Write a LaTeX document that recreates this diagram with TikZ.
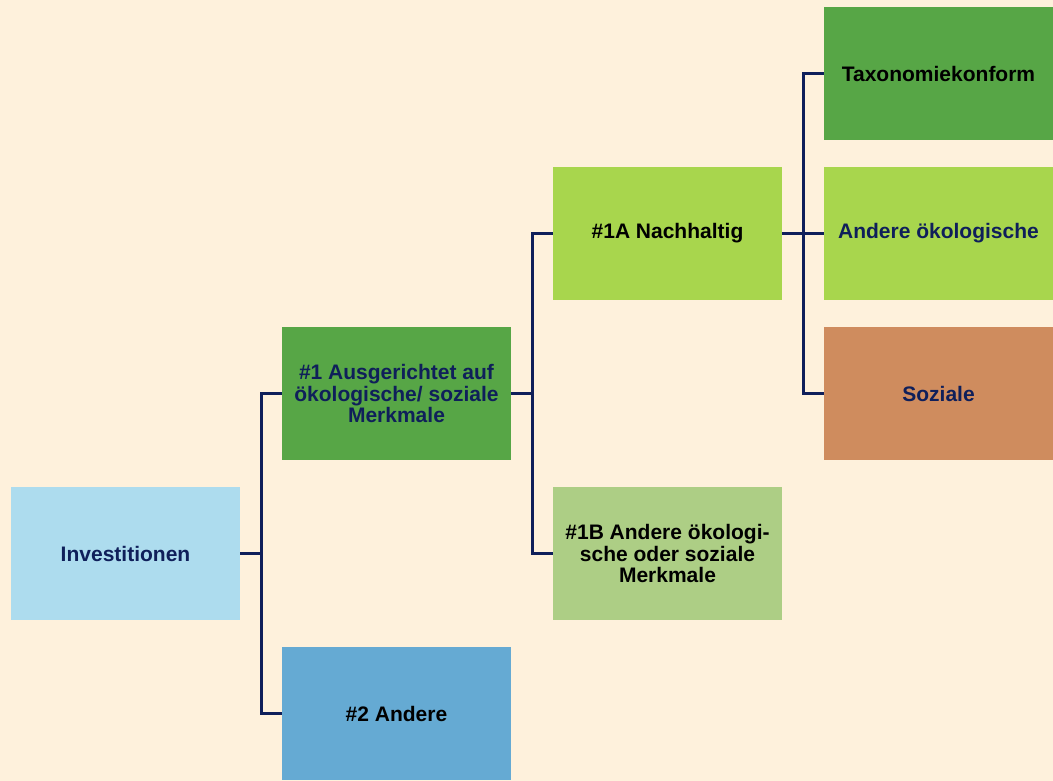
\documentclass[tikz,border=0pt]{standalone}
\usepackage{fontspec}
\setmainfont{Liberation Sans}
\definecolor{bgc}{HTML}{FEF1DC}
\definecolor{navy}{HTML}{0F1F5A}
\definecolor{lblue}{HTML}{ADDCEE}
\definecolor{dgreen}{HTML}{57A646}
\definecolor{mblue}{HTML}{65AAD3}
\definecolor{lime}{HTML}{A8D64D}
\definecolor{sage}{HTML}{ADCE85}
\definecolor{terra}{HTML}{CF8C5E}
\begin{document}
\begin{tikzpicture}[x=1pt,y=-1pt,
  box/.style={rectangle,minimum width=229pt,minimum height=133pt,inner sep=0pt,
    align=center,font=\fontsize{21}{21.5}\selectfont\bfseries},
  conn/.style={draw=navy,line width=3pt}]
\fill[bgc] (0,0) rectangle (1053,781);
\useasboundingbox (0,0) rectangle (1053,781);
\node[box,fill=lblue,text=navy] (inv) at (125.5,553.5) {Investitionen};
\node[box,fill=dgreen,text=navy] (n1) at (396.5,393.5) {\#1 Ausgerichtet auf\\ökologische/ soziale\\Merkmale};
\node[box,fill=mblue,text=black] (n2) at (396.5,713.5) {\#2 Andere};
\node[box,fill=lime,text=black] (n1a) at (667.5,233.5) {\#1A Nachhaltig};
\node[box,fill=sage,text=black] (n1b) at (667.5,553.5) {\#1B Andere ökologi-\\sche oder soziale\\Merkmale};
\node[box,fill=dgreen,text=black] (tax) at (938.5,73.5) {Taxonomiekonform};
\node[box,fill=lime,text=navy] (aoe) at (938.5,233.5) {Andere ökologische};
\node[box,fill=terra,text=navy] (soz) at (938.5,393.5) {Soziale};
\draw[conn] (inv.east) -- ++(22,0);
\draw[conn] (n1.west) -- ++(-20,0) |- (n2.west);
\draw[conn] (n1.east) -- ++(22,0);
\draw[conn] (n1a.west) -- ++(-20,0) |- (n1b.west);
\draw[conn] (n1a.east) -- (aoe.west);
\draw[conn] (tax.west) -- ++(-20,0) |- (soz.west);
\end{tikzpicture}
\end{document}
